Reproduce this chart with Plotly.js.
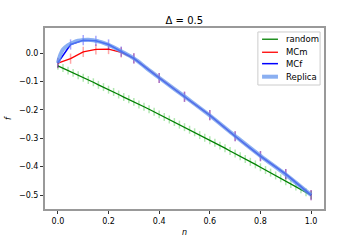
<!DOCTYPE html>
<html>
<head>
<meta charset="utf-8">
<script src="https://cdn.plot.ly/plotly-3.0.1.min.js"></script>
<style>html,body{margin:0;padding:0;background:#fff}#chart{width:360px;height:240px}</style>
</head>
<body>
<div id="chart"></div>
<script>
const randomN = [0,0.02,0.04,0.06,0.08,0.10,0.12,0.14,0.16,0.18,0.20,0.22,0.24,0.26,0.28,0.30,0.32,0.34,0.36,0.38,0.40,0.42,0.44,0.46,0.48,0.50,0.52,0.54,0.56,0.58,0.60,0.62,0.64,0.66,0.68,0.70,0.72,0.74,0.76,0.78,0.80,0.82,0.84,0.86,0.88,0.90,0.92,0.94,0.96,0.98,1.00];
const randomF = [-0.045,-0.053,-0.062,-0.070,-0.078,-0.087,-0.095,-0.103,-0.112,-0.120,-0.129,-0.137,-0.146,-0.155,-0.163,-0.172,-0.181,-0.189,-0.198,-0.207,-0.216,-0.225,-0.234,-0.243,-0.252,-0.261,-0.270,-0.279,-0.289,-0.298,-0.307,-0.316,-0.326,-0.335,-0.345,-0.354,-0.363,-0.373,-0.383,-0.392,-0.402,-0.412,-0.421,-0.431,-0.441,-0.451,-0.461,-0.470,-0.480,-0.490,-0.500];
const randomErr = 0.014;

const mcN = [0,0.05,0.1,0.15,0.2,0.25,0.3,0.4,0.5,0.6,0.7,0.8,0.9,1.0];
const mcmF = [-0.036,-0.020,0.004,0.013,0.014,0.002,-0.019,-0.088,-0.154,-0.219,-0.293,-0.363,-0.426,-0.500];
const mcfF = [-0.035,0.030,0.045,0.043,0.030,0.005,-0.019,-0.088,-0.154,-0.219,-0.293,-0.363,-0.426,-0.500];
const mcErr = 0.018;

const repN = [0,0.01,0.02,0.04,0.06,0.08,0.1,0.12,0.14,0.16,0.18,0.2,0.25,0.3,0.35,0.4,0.5,0.6,0.7,0.8,0.9,1.0];
const repF = [-0.035,-0.005,0.012,0.028,0.037,0.043,0.046,0.047,0.045,0.041,0.036,0.029,0.006,-0.019,-0.053,-0.087,-0.153,-0.220,-0.292,-0.362,-0.428,-0.500];

const xTicks = [0,0.2,0.4,0.6,0.8,1.0];
const xTickText = ['0.0','0.2','0.4','0.6','0.8','1.0'];
const yTicks = [0,-0.1,-0.2,-0.3,-0.4,-0.5];
const yTickText = ['0.0','\u22120.1','\u22120.2','\u22120.3','\u22120.4','\u22120.5'];

const traces = [
  {x: randomN, y: randomF, name: 'random', mode: 'lines', line: {color: 'green', width: 1.3},
   error_y: {type: 'constant', value: randomErr, color: 'rgba(0,180,0,0.3)', thickness: 1.5, width: 0}},
  {x: mcN, y: mcmF, name: 'MCm', mode: 'lines', line: {color: 'red', width: 1.3},
   error_y: {type: 'constant', value: mcErr, color: 'rgba(255,0,0,0.35)', thickness: 1.5, width: 0}},
  {x: mcN, y: mcfF, name: 'MCf', mode: 'lines', line: {color: 'blue', width: 1.5},
   error_y: {type: 'constant', value: mcErr, color: 'rgba(0,0,255,0.35)', thickness: 1.5, width: 0}},
  {x: repN, y: repF, name: 'Replica', mode: 'lines', line: {color: '#6495ED', width: 4, shape: 'spline'}, opacity: 0.75}
];

// hand-drawn compact legend (matplotlib style)
const legRows = [0.938, 0.866, 0.803, 0.731];
const shapes = [{type: 'rect', xref: 'paper', yref: 'paper', x0: 0.763, x1: 0.986, y0: 0.685, y1: 0.978,
  line: {color: '#ccc', width: 1}, fillcolor: 'rgba(255,255,255,0.85)', layer: 'above'}];
const annotations = [];
traces.forEach((t, i) => {
  shapes.push({type: 'line', xref: 'paper', yref: 'paper', x0: 0.778, x1: 0.835, y0: legRows[i], y1: legRows[i],
    line: {color: t.line.color, width: t.line.width}, opacity: t.opacity || 1, layer: 'above'});
  annotations.push({xref: 'paper', yref: 'paper', x: 0.857, y: legRows[i], xanchor: 'left', yanchor: 'middle',
    text: t.name, showarrow: false, font: {family: 'DejaVu Sans', size: 8.5, color: '#000'}});
});

const axisCommon = {showline: true, mirror: true, linecolor: '#999', linewidth: 2, showgrid: false, zeroline: false,
  ticks: 'outside', ticklen: 3, tickwidth: 1, tickcolor: '#333', tickfont: {family: 'DejaVu Sans', size: 8, color: '#000'}};

const layout = {
  width: 360, height: 240,
  margin: {l: 45, r: 36, t: 28, b: 31},
  paper_bgcolor: '#fff', plot_bgcolor: '#fff',
  title: {text: '\u0394 = 0.5', font: {family: 'DejaVu Sans', size: 10, color: '#000'}, x: 0.512, xanchor: 'center', y: 0.915, yanchor: 'middle'},
  xaxis: Object.assign({}, axisCommon, {range: [-0.051, 1.051], tickvals: xTicks, ticktext: xTickText,
    title: {text: '<i>n</i>', font: {family: 'DejaVu Sans', size: 8, color: '#000'}, standoff: 5}}),
  yaxis: Object.assign({}, axisCommon, {range: [-0.549, 0.088], tickvals: yTicks, ticktext: yTickText,
    title: {text: '<i>f</i>', font: {family: 'DejaVu Sans', size: 8, color: '#000'}, standoff: 6}}),
  showlegend: false,
  shapes: shapes,
  annotations: annotations
};

Plotly.newPlot('chart', traces, layout, {displayModeBar: false, staticPlot: true});
</script>
</body>
</html>
